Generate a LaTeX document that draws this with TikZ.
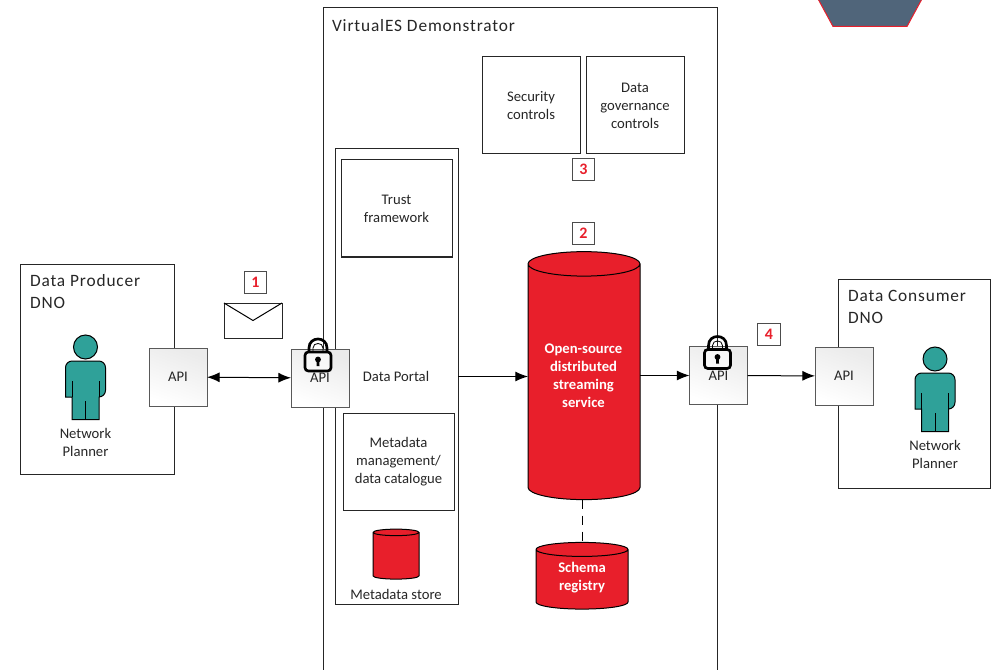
\documentclass[tikz,border=0pt]{standalone}
\usepackage{fontspec}
\setmainfont{Carlito}
\usetikzlibrary{shapes.geometric,arrows.meta}
\definecolor{vesred}{HTML}{E81F2B}
\definecolor{vesteal}{HTML}{2FA199}
\definecolor{vesslate}{HTML}{50657A}
\definecolor{vestext}{HTML}{262626}
\begin{document}
\begin{tikzpicture}[x=0.75pt,y=-0.75pt,inner sep=0pt,outer sep=0pt,line width=0.75pt,
every node/.style={text=vestext,font=\fontsize{11}{13.5}\selectfont,align=center},
sysbox/.style={draw=black!85,rectangle},
apibox/.style={draw=black!65,rectangle,top color=black!8,bottom color=white,shading angle=-20,minimum width=43.5pt,minimum height=43.5pt},
badge/.style={draw=black!70,rectangle,fill=white,text=vesred,font=\fontsize{12}{12}\bfseries\selectfont,minimum width=17pt,minimum height=16pt},
title/.style={anchor=west,align=left,font=\fontsize{13}{16.5}\selectfont\addfontfeature{LetterSpace=5}},
store/.style={draw=black,cylinder,shape border rotate=90,cylinder uses custom fill,cylinder body fill=vesred,cylinder end fill=vesred},
storetext/.style={text=white,font=\fontsize{11}{13.5}\bfseries\selectfont},
link/.style={-{Latex[length=9.5pt,width=7.5pt]},black},
person/.pic={
\fill[vesteal,draw=black] (0,0) circle[radius=9pt];
\draw[fill=vesteal] (-20,50) [rounded corners=5pt] -- (-20,14) -- (20,14) -- (20,50) [sharp corners] -- (13.5,50) -- (13.5,72.5) -- (-13.5,72.5) -- (-13.5,50) -- cycle;
\draw (-13.5,34) -- (-13.5,50) (13.5,34) -- (13.5,50) (0,54) -- (0,72.5);
},
padlock/.pic={
\draw[black,line width=2pt] (-9,0) -- (-9,-4) .. controls (-9,-16) and (9,-16) .. (9,-4) -- (9,0);
\draw[black,line width=0.6pt] (-5,0) -- (-5,-4) .. controls (-5,-10) and (5,-10) .. (5,-4) -- (5,0);
\draw[black,line width=2pt,fill=white,fill opacity=0.55,rounded corners=2.5pt] (-13,0) rectangle (13,19);
\fill[black] (0,7.5) circle[radius=2.2pt];
\fill[black] (-1.3,8) -- (1.3,8) -- (1.5,14) -- (-1.5,14) -- cycle;
}]
\useasboundingbox (0,0) rectangle (995,670);
\draw[draw=vesred,fill=vesslate] (817,-3) -- (833,26.5) -- (907,26.5) -- (923,-3) -- cycle;
\draw (520.5,350) node[sysbox,minimum width=296pt,minimum height=514pt] (demo) {};
\draw (332,26) node[title] (demotitle) {VirtualES Demonstrator};
\draw (97,369) node[sysbox,minimum width=115.5pt,minimum height=157.5pt] (producer) {};
\draw (30,292) node[title] (producertitle) {Data Producer\\DNO};
\draw (914,383.5) node[sysbox,minimum width=114pt,minimum height=156.75pt] (consumer) {};
\draw (848,306.5) node[title] (consumertitle) {Data Consumer\\DNO};
\draw (396.5,376.5) node[sysbox,minimum width=92.25pt,minimum height=341.25pt] (portal) {};
\draw (396,376) node (portaltext) {Data Portal};
\draw (396.5,208.5) node[sysbox,minimum width=83.25pt,minimum height=72.75pt] (trust) {Trust\\framework};
\draw (398.5,461.5) node[sysbox,minimum width=83.25pt,minimum height=72.75pt] (catalogue) {Metadata\\management/\\data catalogue};
\draw (531,105.5) node[sysbox,minimum width=73.5pt,minimum height=72.75pt] (security) {Security\\controls};
\draw (635,105.5) node[sysbox,minimum width=73.5pt,minimum height=72.75pt] (governance) {Data\\governance\\controls};
\draw (396,556) node[store,minimum width=34.5pt,minimum height=37.5pt,shape aspect=0.52] (metastore) {\phantom{M}};
\draw (396,594) node (metatext) {Metadata store};
\draw (584,382) node[store,minimum width=84pt,minimum height=186pt,shape aspect=0.32] (streaming) {\phantom{Open-source}};
\draw (583.5,375.5) node[storetext] (streamingtext) {Open-source\\distributed\\streaming\\service};
\draw (582,579.5) node[store,minimum width=69pt,minimum height=50pt,shape aspect=0.3] (schema) {\phantom{Schema}};
\draw (582,578) node[storetext] (schematext) {Schema\\registry};
\draw[dash pattern=on 7pt off 5pt] (schema.north |- streaming.south) -- (schema.north);
\draw (178,377) node[apibox] (apiproducer) {API};
\draw (320,378) node[apibox] (apiportal) {\raisebox{-2pt}{API}};
\draw (718.5,375.5) node[apibox] (apistream) {\raisebox{-2pt}{API}};
\draw (844,376) node[apibox] (apiconsumer) {API};
\pic at (318,352) {padlock};
\pic at (717.5,349.5) {padlock};
\draw (253,320.5) node[sysbox,fill=white,minimum width=43.5pt,minimum height=26.25pt] (envelope) {};
\draw (envelope.north west) -- (envelope.center) -- (envelope.north east);
\draw (255.5,282.5) node[badge] (badgeone) {1};
\draw (583.5,233.5) node[badge] (badgetwo) {2};
\draw (583.5,169.5) node[badge] (badgethree) {3};
\draw (769,334.5) node[badge] (badgefour) {4};
\pic at (85.5,347) {person};
\draw (85.5,442) node (plannerone) {Network\\Planner};
\pic at (935,359) {person};
\draw (935,454) node (plannertwo) {Network\\Planner};
\draw[link,{Latex[length=9.5pt,width=7.5pt]}-{Latex[length=9.5pt,width=7.5pt]}] (apiproducer) -- (apiportal);
\draw[link] (portal.east) -- (streaming.west |- portal.east);
\draw[link] (streaming.east |- apistream.west) -- (apistream.west);
\draw[link] (apistream) -- (apiconsumer);
\end{tikzpicture}
\end{document}
